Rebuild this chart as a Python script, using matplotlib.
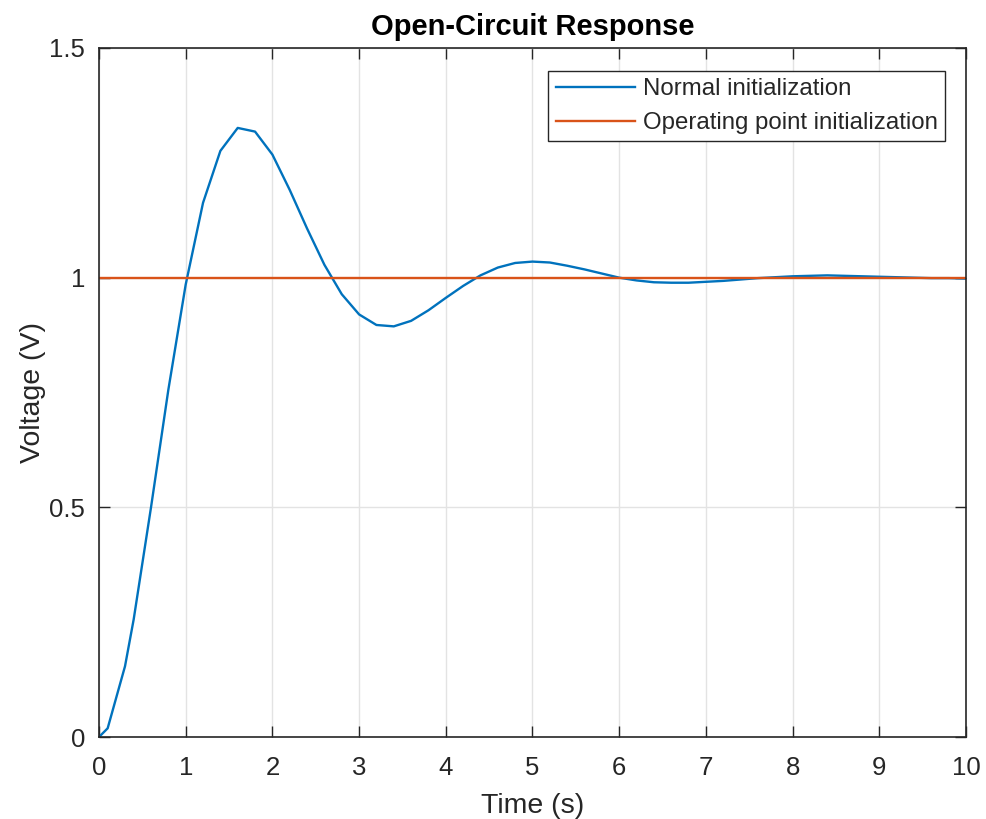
import matplotlib
matplotlib.use("Agg")
import matplotlib.pyplot as plt

# Data
t_normal = [0.0, 0.1, 0.3, 0.4, 0.6, 0.8, 1.0, 1.2, 1.4, 1.6, 1.8, 2.0, 2.2, 2.4, 2.6,
            2.8, 3.0, 3.2, 3.4, 3.6, 3.8, 4.0, 4.2, 4.4, 4.6, 4.8, 5.0, 5.2, 5.4,
            5.6, 5.8, 6.0, 6.2, 6.4, 6.6, 6.8, 7.0, 7.2, 7.4, 7.6, 7.8, 8.0, 8.2,
            8.4, 8.6, 8.8, 9.0, 9.2, 9.4, 9.6, 9.8, 10.0]
v_normal = [0.0, 0.019, 0.154, 0.256, 0.500, 0.756, 0.985, 1.163, 1.276, 1.326, 1.318,
            1.268, 1.191, 1.107, 1.028, 0.964, 0.920, 0.897, 0.894, 0.906, 0.929,
            0.956, 0.982, 1.005, 1.022, 1.032, 1.035, 1.033, 1.026, 1.018, 1.009,
            1.000, 0.994, 0.990, 0.989, 0.989, 0.991, 0.993, 0.996, 0.999, 1.001,
            1.003, 1.004, 1.005, 1.004, 1.003, 1.002, 1.001, 1.000, 0.999, 0.999,
            0.998]
t_op = [0.0, 10.0]
v_op = [1.0, 1.0]

x_ticks = [0, 1, 2, 3, 4, 5, 6, 7, 8, 9, 10]
y_ticks = [0, 0.5, 1, 1.5]
y_tick_labels = ["0", "0.5", "1", "1.5"]

plt.rcParams['font.family'] = ['Liberation Sans', 'DejaVu Sans']
axcol = '#262626'

fig = plt.figure(figsize=(9.86, 8.19), dpi=100)
ax = fig.add_axes([0.1004, 0.1001, 0.8793, 0.8413])

ax.plot(t_normal, v_normal, color='#0072BD', lw=1.7, label='Normal initialization')
ax.plot(t_op, v_op, color='#D95319', lw=1.7, label='Operating point initialization')

ax.set_xlim(0, 10)
ax.set_ylim(0, 1.5)
ax.set_xticks(x_ticks)
ax.set_yticks(y_ticks)
ax.set_yticklabels(y_tick_labels)
ax.grid(True, color='#e3e3e3', lw=1.0)
ax.set_axisbelow(True)
ax.tick_params(direction='in', top=True, right=True, length=8, width=1.0,
               labelsize=18.5, colors=axcol)
ax.tick_params(axis='x', pad=14)
ax.tick_params(axis='y', pad=10)
for s in ax.spines.values():
    s.set_color(axcol)
    s.set_linewidth(1.2)

ax.set_title('Open-Circuit Response', fontsize=21, fontweight='bold', color='black', pad=9)
ax.set_xlabel('Time (s)', fontsize=20.5, color=axcol, labelpad=9)
ax.set_ylabel('Voltage (V)', fontsize=20.5, color=axcol, labelpad=2)

leg = ax.legend(loc='upper right', fontsize=17.3, frameon=True, fancybox=False,
                edgecolor=axcol, framealpha=1, handlelength=3.3, handletextpad=0.35,
                borderpad=0.3, labelspacing=0.5, bbox_to_anchor=(0.99, 0.984))
leg.get_frame().set_linewidth(1.0)
for txt in leg.get_texts():
    txt.set_color(axcol)

fig.savefig('out.png', dpi=100)
